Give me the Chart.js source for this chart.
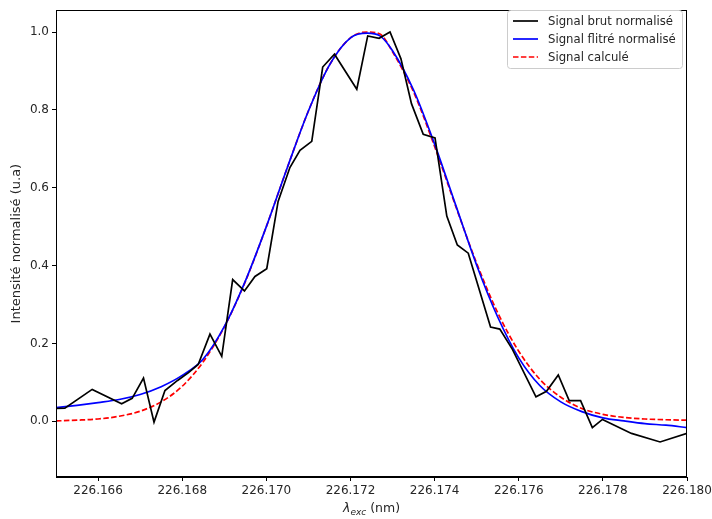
<!DOCTYPE html>
<html>
<head>
<meta charset="utf-8">
<script src="https://cdn.jsdelivr.net/npm/chart.js@4.4.1/dist/chart.umd.min.js"></script>
<style>
  html, body { margin: 0; padding: 0; background: #ffffff; }
  #wrap { width: 712px; height: 519px; }
</style>
</head>
<body>
<div id="wrap"><canvas id="c" width="712" height="519"></canvas></div>
<script>
// ---- Data ----
const seriesLabels = ["Signal brut normalisé", "Signal flitré normalisé", "Signal calculé"];

// Raw normalised signal (black)
const rawX = [226.16500, 226.16521, 226.16586, 226.16656, 226.16681, 226.16708, 226.16733, 226.16759,
  226.16789, 226.16815, 226.16838, 226.16866, 226.16894, 226.16920, 226.16948, 226.16973, 226.17001,
  226.17028, 226.17056, 226.17080, 226.17108, 226.17134, 226.17162, 226.17215, 226.17241, 226.17268,
  226.17294, 226.17320, 226.17345, 226.17373, 226.17401, 226.17429, 226.17454, 226.17480, 226.17533,
  226.17555, 226.17585, 226.17641, 226.17666, 226.17694, 226.17720, 226.17747, 226.17775, 226.17799,
  226.17868, 226.17936, 226.18000];
const rawY = [0.033, 0.034, 0.082, 0.045, 0.059, 0.111, -0.002, 0.079,
  0.105, 0.125, 0.146, 0.224, 0.167, 0.364, 0.335, 0.372, 0.392,
  0.565, 0.652, 0.696, 0.719, 0.910, 0.943, 0.853, 0.990, 0.984,
  1.000, 0.931, 0.816, 0.737, 0.728, 0.527, 0.453, 0.432, 0.242,
  0.237, 0.185, 0.063, 0.077, 0.119, 0.053, 0.053, -0.016, 0.005,
  -0.031, -0.053, -0.031];

// Filtered (blue) and calculated (red) curves, sampled
const fitX = [226.1650, 226.1655, 226.1660, 226.1665, 226.1670, 226.1675, 226.1680, 226.1685,
  226.1690, 226.1695, 226.1700, 226.1705, 226.1710, 226.1715, 226.1720, 226.1724, 226.1727,
  226.1730, 226.1735, 226.1740, 226.1745, 226.1750, 226.1755, 226.1760, 226.1765, 226.1770,
  226.1775, 226.1780, 226.1785, 226.1790, 226.1795, 226.1800];
const filtY = [0.035, 0.041, 0.048, 0.056, 0.069, 0.089, 0.118, 0.160,
  0.243, 0.360, 0.500, 0.652, 0.797, 0.915, 0.985, 0.997, 0.990,
  0.952, 0.851, 0.712, 0.556, 0.401, 0.268, 0.163, 0.092, 0.050,
  0.025, 0.009, 0.001, -0.006, -0.010, -0.016];
const calcY = [0.001, 0.003, 0.006, 0.013, 0.026, 0.050, 0.090, 0.153,
  0.242, 0.359, 0.500, 0.652, 0.797, 0.915, 0.985, 1.000, 0.995,
  0.949, 0.846, 0.706, 0.553, 0.406, 0.279, 0.180, 0.108, 0.062,
  0.033, 0.018, 0.010, 0.006, 0.004, 0.003];

const xTicks = [226.166, 226.168, 226.170, 226.172, 226.174, 226.176, 226.178, 226.180];
const yTicks = [0.0, 0.2, 0.4, 0.6, 0.8, 1.0];
const yTitle = "Intensité normalisé (u.a)";
const xTitleMain = "λ", xTitleSub = "exc", xTitleTail = " (nm)";

// ---- Chart ----
const FONT = "'DejaVu Sans', sans-serif";
const TXT = "#262626";
const pts = (xs, ys) => xs.map((x, i) => ({ x: x, y: ys[i] }));

const frameAndLegend = {
  id: 'frameAndLegend',
  afterDatasetsDraw(chart) {
    const ctx = chart.ctx, a = chart.chartArea;
    ctx.save();
    // axes frame (matplotlib spines)
    ctx.strokeStyle = "#000000";
    ctx.lineWidth = 1;
    ctx.strokeRect(Math.round(a.left) + 0.5, Math.round(a.top) + 0.5,
      Math.round(a.right - a.left) - 1, Math.round(a.bottom - a.top) - 1);

    // legend box
    const bx = 507.5, by = 10.5, bw = 175, bh = 58;
    ctx.fillStyle = "rgba(255,255,255,0.85)";
    ctx.strokeStyle = "#cccccc";
    ctx.lineWidth = 1;
    ctx.beginPath();
    if (ctx.roundRect) ctx.roundRect(bx, by, bw, bh, 3); else ctx.rect(bx, by, bw, bh);
    ctx.fill(); ctx.stroke();

    const rows = [21, 39, 57];
    ctx.font = "11.7px " + FONT;
    ctx.textBaseline = "middle";
    ctx.textAlign = "left";
    chart.data.datasets.forEach((ds, i) => {
      ctx.beginPath();
      ctx.strokeStyle = ds.borderColor;
      ctx.lineWidth = 1.7;
      ctx.setLineDash(ds.borderDash || []);
      ctx.moveTo(513, rows[i]);
      ctx.lineTo(538, rows[i]);
      ctx.stroke();
      ctx.setLineDash([]);
      ctx.fillStyle = TXT;
      ctx.fillText(ds.label, 548, rows[i] + 0.5);
    });

    // x-axis title with subscript
    ctx.fillStyle = TXT;
    ctx.textBaseline = "alphabetic";
    const fMain = "italic 12.5px " + FONT, fSub = "italic 9px " + FONT, fTail = "12.5px " + FONT;
    ctx.font = fMain; const w1 = ctx.measureText(xTitleMain).width;
    ctx.font = fSub; const w2 = ctx.measureText(xTitleSub).width;
    ctx.font = fTail; const w3 = ctx.measureText(xTitleTail).width;
    let x0 = (a.left + a.right) / 2 - (w1 + w2 + w3) / 2;
    const base = 512;
    ctx.font = fMain; ctx.fillText(xTitleMain, x0, base); x0 += w1;
    ctx.font = fSub; ctx.fillText(xTitleSub, x0, base + 2.5); x0 += w2;
    ctx.font = fTail; ctx.fillText(xTitleTail, x0, base);
    ctx.restore();
  }
};

new Chart(document.getElementById('c'), {
  type: 'line',
  data: {
    datasets: [
      { label: seriesLabels[0], data: pts(rawX, rawY), borderColor: "#000000", borderWidth: 1.7,
        pointRadius: 0, tension: 0, fill: false },
      { label: seriesLabels[1], data: pts(fitX, filtY), borderColor: "#0000ff", borderWidth: 1.7,
        pointRadius: 0, cubicInterpolationMode: 'monotone', fill: false },
      { label: seriesLabels[2], data: pts(fitX, calcY), borderColor: "#ff0000", borderWidth: 1.7,
        borderDash: [5.5, 2.4], pointRadius: 0, cubicInterpolationMode: 'monotone', fill: false }
    ]
  },
  options: {
    responsive: false,
    animation: false,
    devicePixelRatio: 1,
    layout: { padding: { left: 0, right: 25, top: 5, bottom: 0 } },
    plugins: { legend: { display: false }, tooltip: { enabled: false } },
    scales: {
      x: {
        type: 'linear',
        min: 226.165, max: 226.180,
        afterBuildTicks: (s) => { s.ticks = xTicks.map(v => ({ value: v })); },
        afterFit: (s) => { s.height = 42; s.paddingRight = 0; s.paddingLeft = 0; },
        ticks: { font: { family: FONT, size: 12 }, color: TXT, padding: 3, maxRotation: 0,
          autoSkip: false, callback: (v) => Number(v).toFixed(3) },
        grid: { display: true, drawOnChartArea: false, drawTicks: true, tickLength: 4, color: "#000000" },
        border: { display: true, color: "#000000" }
      },
      y: {
        type: 'linear',
        min: -0.143, max: 1.056,
        afterBuildTicks: (s) => { s.ticks = yTicks.map(v => ({ value: v })); },
        afterFit: (s) => { s.width = 56; },
        ticks: { font: { family: FONT, size: 12 }, color: TXT, padding: 3,
          callback: (v) => Number(v).toFixed(1) },
        grid: { display: true, drawOnChartArea: false, drawTicks: true, tickLength: 4, color: "#000000" },
        border: { display: true, color: "#000000" },
        title: { display: true, text: yTitle, color: TXT, font: { family: FONT, size: 13 },
          padding: { top: 9, bottom: 0 } }
      }
    }
  },
  plugins: [frameAndLegend]
});
</script>
</body>
</html>
